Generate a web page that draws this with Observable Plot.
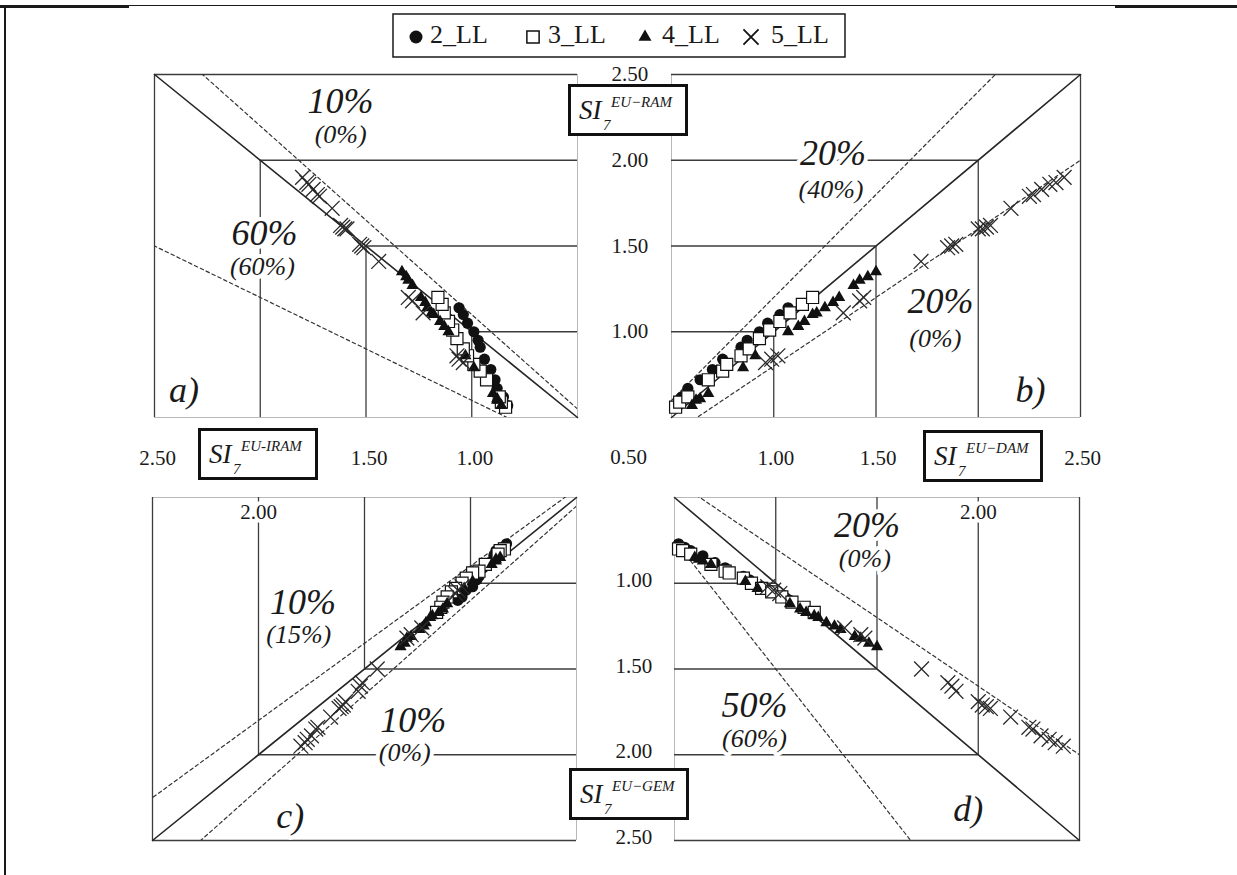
<!DOCTYPE html>
<html>
<head>
<meta charset="utf-8">
<title>SI7 comparison of analysis methods</title>
<script src="https://cdn.jsdelivr.net/npm/d3@7"></script>
<script src="https://cdn.jsdelivr.net/npm/@observablehq/plot@0.6"></script>
<style>
  html, body { margin: 0; padding: 0; background: #fff; }
  #chart { position: relative; width: 1237px; height: 875px; overflow: hidden; background: #fff;
           font-family: "Liberation Serif", "Times New Roman", serif; color: #1a1a1a; }
  #chart > svg { position: absolute; left: 0; top: 0; }
  .rule { position: absolute; background: #1a1a1a; }
  .si-box { position: absolute; box-sizing: border-box; width: 120px; height: 52px;
            border: 3px solid #111; background: #fff; }
  .si-box span { position: absolute; line-height: 1; font-style: italic; white-space: nowrap; color: #1a1a1a; }
  .si-box .si  { font-size: 27px; left: 8px;  top: 10px; }
  .si-box .sub { font-size: 15px; left: 32px; top: 31px; }
  .si-box .sup { font-size: 15px; left: 40px; top: 8px; }
</style>
</head>
<body>
<div id="chart"></div>
<script>
// SI7 values of every structure under the four methods (RAM, IRAM, DAM, GEM),
// one group of arrays per storey count.
const ram2  = [0.57, 0.62, 0.67, 0.72, 0.78, 0.84, 0.91, 0.95, 1.00, 1.05, 1.10, 1.14];
const iram2 = [0.83, 0.85, 0.88, 0.89, 0.91, 0.94, 0.96, 0.97, 0.99, 1.02, 1.04, 1.06];
const dam2  = [0.52, 0.55, 0.58, 0.64, 0.70, 0.75, 0.84, 0.87, 0.93, 0.97, 1.03, 1.07];
const gem2  = [0.77, 0.79, 0.81, 0.84, 0.88, 0.91, 0.96, 0.98, 1.02, 1.04, 1.08, 1.10];

const ram3  = [0.56, 0.59, 0.62, 0.72, 0.77, 0.81, 0.86, 0.90, 0.96, 1.01, 1.06, 1.11, 1.16, 1.20];
const iram3 = [0.84, 0.86, 0.87, 0.93, 0.96, 0.99, 1.02, 1.04, 1.07, 1.09, 1.11, 1.13, 1.14, 1.16];
const dam3  = [0.52, 0.54, 0.58, 0.68, 0.75, 0.77, 0.84, 0.88, 0.93, 0.98, 1.03, 1.08, 1.14, 1.19];
const gem3  = [0.80, 0.81, 0.83, 0.89, 0.93, 0.94, 0.97, 1.00, 1.03, 1.05, 1.08, 1.11, 1.14, 1.17];

const ram4  = [0.57, 0.60, 0.61, 0.64, 0.79, 0.86, 1.00, 1.03, 1.06, 1.10, 1.11, 1.14, 1.17, 1.20, 1.27, 1.30, 1.32, 1.35];
const iram4 = [0.86, 0.88, 0.88, 0.90, 0.99, 1.03, 1.11, 1.13, 1.15, 1.18, 1.19, 1.21, 1.22, 1.24, 1.28, 1.30, 1.31, 1.33];
const dam4  = [0.60, 0.62, 0.64, 0.68, 0.85, 0.91, 1.07, 1.12, 1.15, 1.19, 1.21, 1.25, 1.29, 1.32, 1.39, 1.42, 1.46, 1.50];
const gem4  = [0.85, 0.86, 0.87, 0.89, 0.99, 1.03, 1.12, 1.15, 1.17, 1.19, 1.20, 1.23, 1.25, 1.27, 1.31, 1.32, 1.35, 1.37];

const ram5  = [0.82, 0.84, 0.86, 1.11, 1.18, 1.20, 1.41, 1.49, 1.50, 1.51, 1.60, 1.60, 1.61, 1.62, 1.72, 1.79, 1.80, 1.83, 1.86, 1.87, 1.90];
const iram5 = [1.04, 1.06, 1.07, 1.23, 1.28, 1.30, 1.44, 1.51, 1.52, 1.53, 1.59, 1.60, 1.61, 1.62, 1.66, 1.72, 1.73, 1.75, 1.77, 1.78, 1.80];
const dam5  = [0.96, 0.99, 1.02, 1.34, 1.42, 1.44, 1.72, 1.85, 1.87, 1.89, 2.00, 2.02, 2.04, 2.06, 2.16, 2.25, 2.27, 2.31, 2.35, 2.38, 2.42];
const gem5  = [1.02, 1.04, 1.06, 1.26, 1.30, 1.32, 1.50, 1.58, 1.60, 1.63, 1.69, 1.71, 1.72, 1.73, 1.78, 1.84, 1.85, 1.89, 1.91, 1.93, 1.95];

const seriesNames = ["2_LL", "3_LL", "4_LL", "5_LL"];

// Tick values and reference lines
const gridValues   = [1.0, 1.5, 2.0, 2.5];
const topYTicks    = [2.5, 2.0, 1.5, 1.0];
const bottomYTicks = [1.0, 1.5, 2.0, 2.5];
const leftXTicks   = [2.5, 1.5, 1.0];
const rightXTicks  = [1.0, 1.5, 2.5];
const originTick   = [0.5];
const innerTopTick = [2.0];
const diagonal     = [0.5, 2.5];

// Deviation bounds drawn as y = k·x in each panel
const guidesA = [1.1, 0.6];
const guidesB = [1.2, 0.8];
const guidesC = [0.9, 1.1];
const guidesD = [0.8, 1.5];

// Percentage annotations (deviation bound / share of structures outside it)
const notesBigA   = [{x: 1.62, y: 2.345, t: "10%"}, {x: 1.98, y: 1.575, t: "60%"}, {x: 2.36, y: 0.66, t: "a)"}];
const notesSmallA = [{x: 1.62, y: 2.15, t: "(0%)"}, {x: 1.99, y: 1.38, t: "(60%)"}];
const notesBigB   = [{x: 1.29, y: 2.04, t: "20%"}, {x: 1.815, y: 1.175, t: "20%"}, {x: 2.255, y: 0.66, t: "b)"}];
const notesSmallB = [{x: 1.28, y: 1.83, t: "(40%)"}, {x: 1.79, y: 0.96, t: "(0%)"}];
const notesBigC   = [{x: 1.79, y: 1.11, t: "10%"}, {x: 1.27, y: 1.80, t: "10%"}, {x: 1.85, y: 2.36, t: "c)"}];
const notesSmallC = [{x: 1.81, y: 1.30, t: "(15%)"}, {x: 1.31, y: 1.99, t: "(0%)"}];
const notesBigD   = [{x: 1.45, y: 0.665, t: "20%"}, {x: 0.895, y: 1.712, t: "50%"}, {x: 1.95, y: 2.32, t: "d)"}];
const notesSmallD = [{x: 1.44, y: 0.855, t: "(0%)"}, {x: 0.895, y: 1.908, t: "(60%)"}];

// ---------------------------------------------------------------------------
const W = 1237, H = 875;
const ink = "#1a1a1a";
const fmt = d => d.toFixed(2);

const toRows = (ram, iram, dam, gem) =>
  ram.map((v, i) => ({ram: v, iram: iram[i], dam: dam[i], gem: gem[i]}));
const series = [
  toRows(ram2, iram2, dam2, gem2),
  toRows(ram3, iram3, dam3, gem3),
  toRows(ram4, iram4, dam4, gem4),
  toRows(ram5, iram5, dam5, gem5)
];

const markerStyles = [
  {symbol: "circle",   r: 5.6, fill: "#111", stroke: "none"},
  {symbol: "square",   r: 6.8, fill: "#fff", stroke: "#111", strokeWidth: 1.2},
  {symbol: "triangle", r: 4.5, fill: "#111", stroke: "none"},
  {symbol: "times",    r: 6.8, fill: "none", stroke: "#2a2a2a", strokeWidth: 1.3}
];

const halo = {stroke: "#fff", strokeWidth: 8, paintOrder: "stroke", strokeLinejoin: "round", fill: ink};

function drawPanel({frame, x, y, xDomain, yDomain, guides, notesBig, notesSmall, extra, xAxis, yAxis}) {
  const [left, right, top, bottom] = frame;
  return Plot.plot({
    width: W, height: H,
    marginLeft: left, marginRight: W - right, marginTop: top, marginBottom: H - bottom,
    x: xAxis ? {domain: xDomain} : {domain: xDomain, axis: null},
    y: yAxis ? {domain: yDomain} : {domain: yDomain, axis: null},
    style: {background: "transparent", overflow: "visible", fontFamily: "'Liberation Serif', 'Times New Roman', serif",
            fontSize: "21px", color: ink},
    marks: [
      // the two axes through the shared origin (0.50)
      Plot.ruleX([0.5], {stroke: "#b8b8b8", strokeWidth: 1}),
      Plot.ruleY([0.5], {stroke: "#b8b8b8", strokeWidth: 1}),
      // nested squares anchored at the origin
      Plot.ruleX(gridValues, {x: d => d, y1: 0.5, y2: d => d, stroke: "#3c3c3c", strokeWidth: 1.3}),
      Plot.ruleY(gridValues, {y: d => d, x1: 0.5, x2: d => d, stroke: "#3c3c3c", strokeWidth: 1.3}),
      // equality line and deviation bounds
      Plot.line(diagonal, {x: d => d, y: d => d, stroke: "#262626", strokeWidth: 1.6}),
      ...guides.map(k => Plot.line(diagonal, {x: d => d, y: d => k * d, stroke: "#333", strokeWidth: 1.2,
                                              strokeDasharray: "3.5,3", clip: true})),
      // structures
      ...series.map((rows, i) => Plot.dot(rows, {x, y, ...markerStyles[i]})),
      // annotations
      Plot.text(notesBig, {x: "x", y: "y", text: "t", fontSize: 36, fontStyle: "italic", ...halo}),
      Plot.text(notesSmall, {x: "x", y: "y", text: "t", fontSize: 26, fontStyle: "italic", ...halo}),
      ...extra
    ]
  });
}

const chart = document.getElementById("chart");

const panels = [
  { // a) IRAM vs RAM
    frame: [154, 577, 74, 417], x: "iram", y: "ram", xDomain: [2.5, 0.5], yDomain: [0.5, 2.5],
    guides: guidesA, notesBig: notesBigA, notesSmall: notesSmallA, xAxis: true, yAxis: true,
    extra: [
      Plot.axisX(leftXTicks, {anchor: "bottom", tickSize: 0, tickPadding: 33, tickFormat: fmt, dx: 3, label: null}),
      Plot.axisY(topYTicks, {anchor: "right", tickSize: 0, tickPadding: 34, tickFormat: fmt, label: null}),
      Plot.text(originTick, {x: d => d, y: d => d, text: fmt, dx: 51, dy: 40, fill: ink})
    ]
  },
  { // b) DAM vs RAM
    frame: [671, 1080, 74, 417], x: "dam", y: "ram", xDomain: [0.5, 2.5], yDomain: [0.5, 2.5],
    guides: guidesB, notesBig: notesBigB, notesSmall: notesSmallB, xAxis: true, yAxis: false,
    extra: [
      Plot.axisX(rightXTicks, {anchor: "bottom", tickSize: 0, tickPadding: 33, tickFormat: fmt, dx: 2, label: null})
    ]
  },
  { // c) IRAM vs GEM
    frame: [152, 576, 497, 840], x: "iram", y: "gem", xDomain: [2.5, 0.5], yDomain: [2.5, 0.5],
    guides: guidesC, notesBig: notesBigC, notesSmall: notesSmallC, xAxis: false, yAxis: true,
    extra: [
      Plot.axisY(bottomYTicks, {anchor: "right", tickSize: 0, tickPadding: 39, tickFormat: fmt, dy: -3, label: null}),
      Plot.text(innerTopTick, {x: d => d, frameAnchor: "top", dy: 7, text: fmt, ...halo})
    ]
  },
  { // d) DAM vs GEM
    frame: [674, 1079, 497, 840], x: "dam", y: "gem", xDomain: [0.5, 2.5], yDomain: [2.5, 0.5],
    guides: guidesD, notesBig: notesBigD, notesSmall: notesSmallD, xAxis: false, yAxis: false,
    extra: [
      Plot.text(innerTopTick, {x: d => d, frameAnchor: "top", dy: 7, text: fmt, ...halo})
    ]
  }
];

for (const p of panels) chart.appendChild(drawPanel(p));

// Page frame lines
const frameRules = [
  {l: 0,    t: 5, w: 1237, h: 1},
  {l: 0,    t: 5, w: 129,  h: 3},
  {l: 1115, t: 5, w: 122,  h: 3},
  {l: 4,    t: 5, w: 2,    h: 870}
];
for (const r of frameRules) {
  const div = document.createElement("div");
  div.className = "rule";
  Object.assign(div.style, {left: r.l + "px", top: r.t + "px", width: r.w + "px", height: r.h + "px"});
  chart.appendChild(div);
}

// Axis titles: SI7 with method superscript
const siBoxes = [
  {left: 568, top: 84,  method: "EU\u2212RAM"},
  {left: 198, top: 428, method: "EU-IRAM"},
  {left: 923, top: 430, method: "EU\u2212DAM"},
  {left: 569, top: 768, method: "EU\u2212GEM"}
];
for (const b of siBoxes) {
  const div = document.createElement("div");
  div.className = "si-box";
  div.style.left = b.left + "px";
  div.style.top = b.top + "px";
  div.innerHTML = `<span class="si">SI</span><span class="sub">7</span><span class="sup">${b.method}</span>`;
  chart.appendChild(div);
}

// Legend
const legend = d3.select(chart).append("svg")
  .attr("width", 456).attr("height", 47)
  .style("position", "absolute").style("left", "392px").style("top", "13px");
legend.append("rect").attr("x", 1).attr("y", 1).attr("width", 452).attr("height", 43)
  .attr("fill", "#fff").attr("stroke", ink).attr("stroke-width", 1.5);
const legendSymbols = [
  {type: d3.symbolCircle,   size: 133, fill: "#111", stroke: "none", sw: 0},
  {type: d3.symbolSquare,   size: 150, fill: "#fff", stroke: "#111", sw: 1.5},
  {type: d3.symbolTriangle, size: 73,  fill: "#111", stroke: "none", sw: 0},
  {type: d3.symbolTimes,    size: 150, fill: "none", stroke: "#111", sw: 1.8}
];
const legendSymbolX = [24, 141, 253, 359];
const legendTextX = [38, 156, 270, 379];
seriesNames.forEach((name, i) => {
  const s = legendSymbols[i];
  legend.append("path")
    .attr("d", d3.symbol(s.type, s.size)())
    .attr("transform", `translate(${legendSymbolX[i]},24)`)
    .attr("fill", s.fill).attr("stroke", s.stroke).attr("stroke-width", s.sw);
  legend.append("text")
    .attr("x", legendTextX[i]).attr("y", 30)
    .attr("font-family", "'Liberation Serif', 'Times New Roman', serif")
    .attr("font-size", 26).attr("fill", ink)
    .text(name);
});
</script>
</body>
</html>
